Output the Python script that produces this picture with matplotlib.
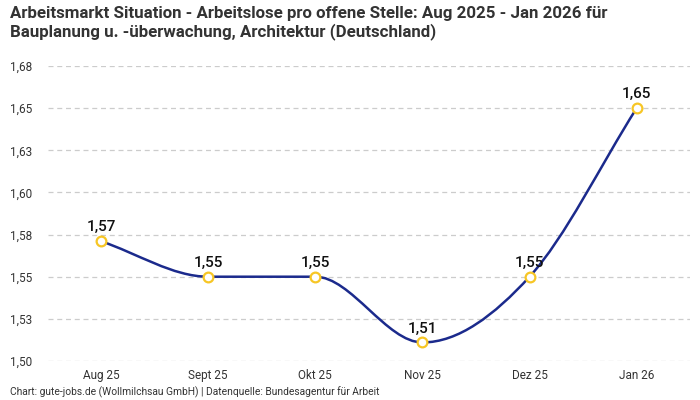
import matplotlib
matplotlib.use("Agg")
import matplotlib.pyplot as plt
from matplotlib.path import Path
from matplotlib.patches import PathPatch
from matplotlib.ticker import FixedLocator, FuncFormatter
import numpy as np

plt.rcParams['font.family'] = ['Roboto', 'DejaVu Sans']

# Daten
monate = ['Aug 25', 'Sept 25', 'Okt 25', 'Nov 25', 'Dez 25', 'Jan 26']
werte = [1.571, 1.55, 1.55, 1.511, 1.55, 1.65]
y_ticks = [1.500, 1.525, 1.550, 1.575, 1.600, 1.625, 1.650, 1.675]

titel = ("Arbeitsmarkt Situation - Arbeitslose pro offene Stelle: Aug 2025 - Jan 2026 für\n"
         "Bauplanung u. -überwachung, Architektur (Deutschland)")
quelle = "Chart: gute-jobs.de (Wollmilchsau GmbH) | Datenquelle: Bundesagentur für Arbeit"

LINIE = '#1b2a8c'
PUNKT = '#f7c625'


def komma(v):
    return f"{v + 1e-9:.2f}".replace('.', ',')


def monotone_path(x, y):
    # monotone kubische Kurve (wie Chart.js 'monotone'), als Bezier-Pfad
    x = np.asarray(x, float)
    y = np.asarray(y, float)
    n = len(x)
    d = np.diff(y) / np.diff(x)
    m = np.zeros(n)
    m[0], m[-1] = d[0], d[-1]
    for i in range(1, n - 1):
        if d[i - 1] == 0 or d[i] == 0 or np.sign(d[i - 1]) != np.sign(d[i]):
            m[i] = 0
        else:
            m[i] = (d[i - 1] + d[i]) / 2
    for i in range(n - 1):
        if d[i] == 0:
            m[i] = m[i + 1] = 0
            continue
        a, b = m[i] / d[i], m[i + 1] / d[i]
        s = a * a + b * b
        if s > 9:
            t = 3 / np.sqrt(s)
            m[i], m[i + 1] = t * a * d[i], t * b * d[i]
    verts = [(x[0], y[0])]
    codes = [Path.MOVETO]
    for i in range(n - 1):
        dx = (x[i + 1] - x[i]) / 3
        verts += [(x[i] + dx, y[i] + m[i] * dx),
                  (x[i + 1] - dx, y[i + 1] - m[i + 1] * dx),
                  (x[i + 1], y[i + 1])]
        codes += [Path.CURVE4] * 3
    return Path(verts, codes)


fig = plt.figure(figsize=(7, 4), dpi=100)
ax = fig.add_axes([0.068, 0.0975, 0.918, 0.7375])

xs = np.arange(len(monate))
ax.add_patch(PathPatch(monotone_path(xs, werte), fill=False, edgecolor=LINIE, lw=1.8, zorder=3))
ax.plot(xs, werte, linestyle='none', marker='o', ms=7, mfc='white', mec=PUNKT, mew=1.6, zorder=4)

for xi, w in zip(xs, werte):
    ax.annotate(komma(w), (xi, w), xytext=(0, 5), textcoords='offset points',
                ha='center', va='bottom', fontsize=11, fontweight='medium', color='#111111')

ax.set_xlim(-0.5, len(monate) - 0.5)
ax.set_ylim(1.5, 1.675)
ax.set_xticks(xs)
ax.set_xticklabels(monate)
ax.yaxis.set_major_locator(FixedLocator(y_ticks))
ax.yaxis.set_major_formatter(FuncFormatter(lambda v, p: komma(v)))
ax.tick_params(axis='both', length=0, labelsize=8.5, colors='#333333')
ax.tick_params(axis='x', pad=6)
for lab in ax.get_yticklabels():
    lab.set_horizontalalignment('left')
ax.tick_params(axis='y', pad=27)

ax.grid(axis='y', color='#cccccc', linestyle=(0, (4, 3)), lw=0.9)
ax.set_axisbelow(True)
for s in ax.spines.values():
    s.set_visible(False)

fig.text(0.014, 0.985, titel, ha='left', va='top', fontsize=12.2, fontweight='bold',
         color='#333333', linespacing=1.15)
fig.text(0.014, 0.005, quelle, ha='left', va='bottom', fontsize=7.4, color='#333333')

fig.savefig('out.png', dpi=100)
